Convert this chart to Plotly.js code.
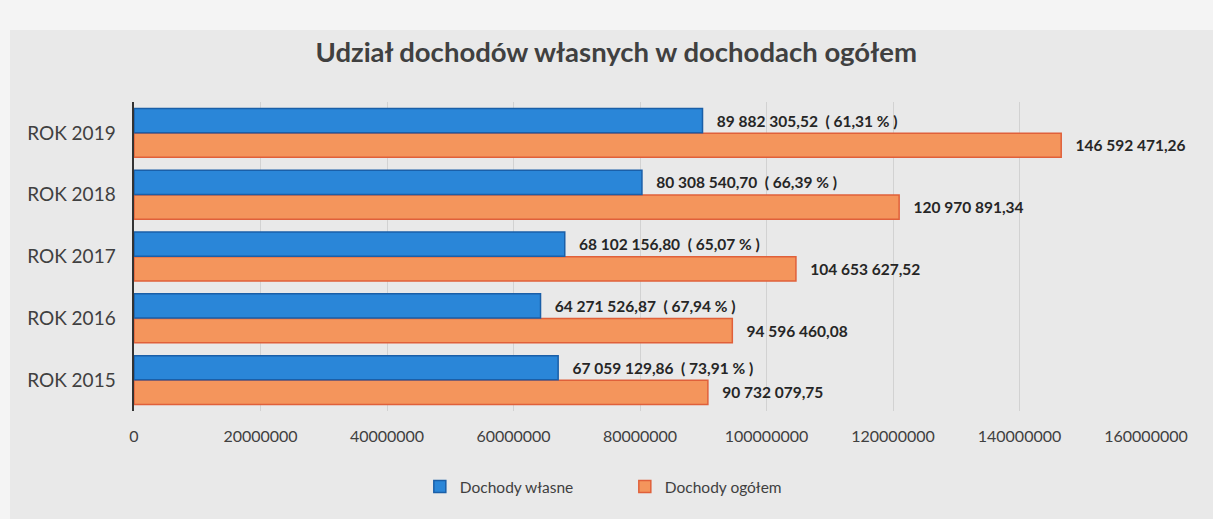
<!DOCTYPE html>
<html>
<head>
<meta charset="utf-8">
<script src="https://cdn.plot.ly/plotly-3.0.1.min.js"></script>
<style>html,body{margin:0;padding:0;background:#f4f4f4;}#chart{width:1213px;height:519px;}</style>
</head>
<body>
<div id="chart"></div>
<script>
var years = ['ROK 2015', 'ROK 2016', 'ROK 2017', 'ROK 2018', 'ROK 2019'];
var dochodyWlasne = [67059129.86, 64271526.87, 68102156.80, 80308540.70, 89882305.52];
var dochodyOgolem = [90732079.75, 94596460.08, 104653627.52, 120970891.34, 146592471.26];
var udzialProc = ['73,91', '67,94', '65,07', '66,39', '61,31'];
var xTicks = [0, 20000000, 40000000, 60000000, 80000000, 100000000, 120000000, 140000000, 160000000];

function fmt(v) {
  var parts = v.toFixed(2).split('.');
  var intPart = parts[0].replace(/\B(?=(\d{3})+(?!\d))/g, ' ');
  return intPart + ',' + parts[1];
}

var pad = '\u00a0\u00a0\u00a0';
var textW = dochodyWlasne.map(function (v, i) { return pad + fmt(v) + '  ( ' + udzialProc[i] + ' % )'; });
var textO = dochodyOgolem.map(function (v) { return pad + fmt(v); });

var font = 'Lato, "Open Sans", sans-serif';

var traceO = {
  type: 'bar', orientation: 'h', name: 'Dochody ogółem',
  y: years, x: dochodyOgolem, text: textO,
  textposition: 'outside', constraintext: 'none', cliponaxis: false,
  textfont: {family: font, size: 15.5, color: '#262626', weight: 'bold'},
  marker: {color: '#f4955c', line: {color: '#e0603a', width: 1.5}},
  legendrank: 2, hoverinfo: 'skip'
};
var traceW = {
  type: 'bar', orientation: 'h', name: 'Dochody własne',
  y: years, x: dochodyWlasne, text: textW,
  textposition: 'outside', constraintext: 'none', cliponaxis: false,
  textfont: {family: font, size: 15.5, color: '#262626', weight: 'bold'},
  marker: {color: '#2a86d8', line: {color: '#1a5fa8', width: 1.5}},
  legendrank: 1, hoverinfo: 'skip'
};

var layout = {
  width: 1213, height: 519,
  margin: {l: 134, r: 67, t: 102, b: 108},
  paper_bgcolor: '#f4f4f4',
  plot_bgcolor: 'rgba(0,0,0,0)',
  font: {family: font, color: '#404040'},
  title: {
    text: '<b>Udział dochodów własnych w dochodach ogółem</b>',
    font: {family: font, size: 27.5, color: '#404040'},
    x: 0.508, xanchor: 'center', y: 0.9, yanchor: 'middle'
  },
  barmode: 'group', bargap: 0.2, bargroupgap: 0.02,
  xaxis: {
    range: [0, 160000000], tickvals: xTicks,
    ticktext: xTicks.map(String),
    showgrid: true, gridcolor: '#d2d2d2', gridwidth: 1,
    zeroline: false, showline: false,
    tickfont: {family: font, size: 16, color: '#404040'},
    ticklabelstandoff: 14
  },
  yaxis: {
    type: 'category', categoryorder: 'array', categoryarray: years,
    showline: true, linecolor: '#333333', linewidth: 2.5,
    showgrid: false, ticks: '',
    tickfont: {family: font, size: 19, color: '#404040'},
    ticklabelstandoff: 12
  },
  showlegend: true,
  legend: {
    orientation: 'h', x: 0.485, xanchor: 'center', y: -0.246, yanchor: 'middle',
    font: {family: font, size: 15.5, color: '#404040'},
    bgcolor: 'rgba(0,0,0,0)', itemwidth: 30,
    entrywidth: 160, entrywidthmode: 'pixels'
  },
  shapes: [{
    type: 'rect', xref: 'paper', yref: 'paper', layer: 'below',
    x0: -0.1225, x1: 1.07, y0: -0.36, y1: 1.233,
    fillcolor: '#e9e9e9', line: {width: 0}
  }]
};

Plotly.newPlot('chart', [traceO, traceW], layout, {displayModeBar: false, staticPlot: true});
</script>
</body>
</html>
